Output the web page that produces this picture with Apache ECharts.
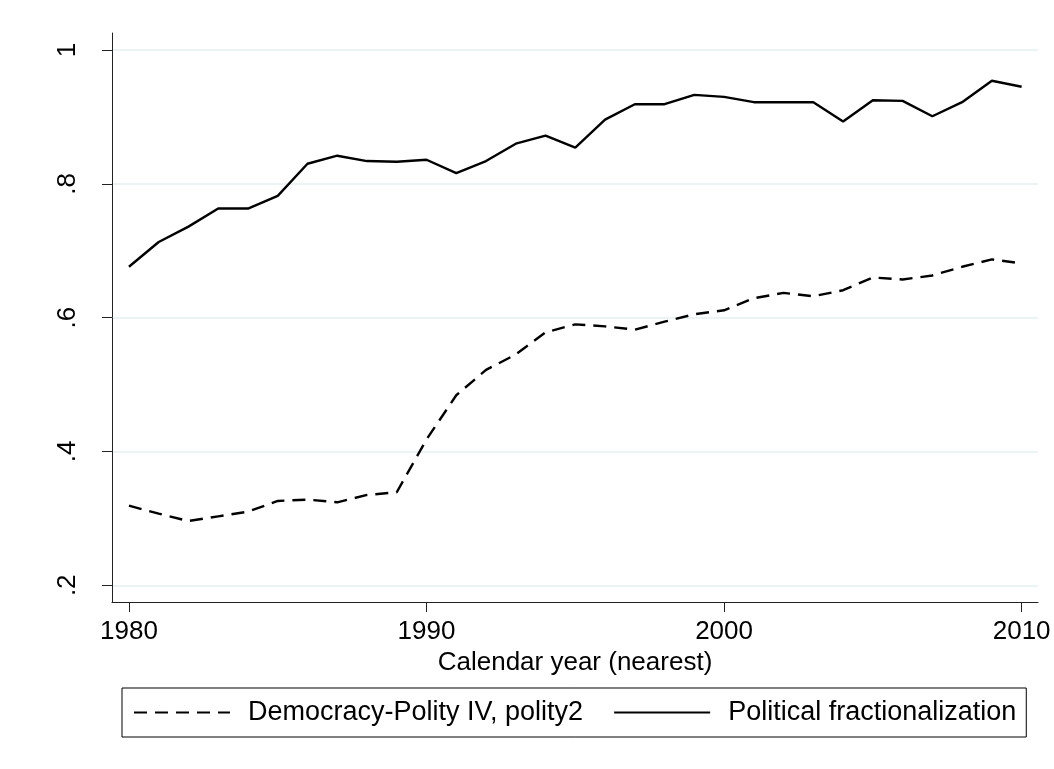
<!DOCTYPE html>
<html>
<head>
<meta charset="utf-8">
<script src="https://cdn.jsdelivr.net/npm/echarts@6/dist/echarts.min.js"></script>
<style>
  html, body { margin: 0; padding: 0; background: #fff; }
  #chart { width: 1054px; height: 769px; }
</style>
</head>
<body>
<div id="chart"></div>
<script>
// years on the x axis
const years = [1980, 1981, 1982, 1983, 1984, 1985, 1986, 1987, 1988, 1989,
  1990, 1991, 1992, 1993, 1994, 1995, 1996, 1997, 1998, 1999,
  2000, 2001, 2002, 2003, 2004, 2005, 2006, 2007, 2008, 2009, 2010];

// Democracy-Polity IV, polity2 (dashed)
const democracy = [0.319, 0.307, 0.296, 0.303, 0.310, 0.326, 0.328, 0.324, 0.335, 0.339,
  0.418, 0.484, 0.522, 0.545, 0.578, 0.590, 0.587, 0.582, 0.594, 0.605,
  0.611, 0.629, 0.637, 0.632, 0.641, 0.660, 0.657, 0.663, 0.676, 0.687, 0.681];

// Political fractionalization (solid)
const fraction = [0.676, 0.713, 0.736, 0.763, 0.763, 0.782, 0.830, 0.842, 0.834, 0.833,
  0.836, 0.816, 0.834, 0.860, 0.872, 0.854, 0.896, 0.919, 0.919, 0.933,
  0.930, 0.922, 0.922, 0.922, 0.893, 0.925, 0.924, 0.901, 0.922, 0.954, 0.945];

const xTicks = [1980, 1990, 2000, 2010];
const yTicks = [0.2, 0.4, 0.6, 0.8, 1];

const font = '"Liberation Sans", Arial, sans-serif';
const chart = echarts.init(document.getElementById('chart'));

const pairs = arr => years.map((y, i) => [y, arr[i]]);

chart.setOption({
  animation: false,
  backgroundColor: '#fff',
  grid: { left: 112, right: 16, top: 33, bottom: 167, containLabel: false },
  xAxis: {
    type: 'value',
    min: 1979.43,
    max: 2010.55,
    name: 'Calendar year (nearest)',
    nameLocation: 'middle',
    nameGap: 44,
    nameTextStyle: { fontFamily: font, fontSize: 26, color: '#000' },
    axisLine: { lineStyle: { color: '#222', width: 1 } },
    axisTick: { customValues: xTicks, length: 10, lineStyle: { color: '#222' } },
    axisLabel: {
      customValues: xTicks, margin: 17,
      fontFamily: font, fontSize: 26, color: '#000',
      formatter: v => String(v)
    },
    splitLine: { show: false }
  },
  yAxis: {
    type: 'value',
    min: 0.175,
    max: 1.0254,
    axisLine: { show: true, lineStyle: { color: '#222', width: 1 } },
    axisTick: { show: true, customValues: yTicks, length: 10, lineStyle: { color: '#222' } },
    axisLabel: {
      customValues: yTicks, rotate: 90, margin: 31,
      fontFamily: font, fontSize: 26, color: '#000',
      formatter: v => (v >= 1 ? '1' : String(Math.round(v * 10) / 10).replace(/^0/, ''))
    },
    splitLine: { show: true, lineStyle: { color: '#e6eff2', width: 1.5 } }
  },
  legend: {
    left: 122,
    top: 688,
    padding: [11, 10, 11, 11],
    borderColor: '#000',
    borderWidth: 1,
    itemWidth: 96,
    itemHeight: 27,
    itemGap: 30,
    itemStyle: { opacity: 0 },
    textStyle: { fontFamily: font, fontSize: 27, color: '#000', padding: [0, 0, 0, 13] },
    data: ['Democracy-Polity IV, polity2', 'Political fractionalization']
  },
  series: [
    {
      name: 'Democracy-Polity IV, polity2',
      type: 'line',
      data: pairs(democracy),
      symbol: 'none',
      lineStyle: { color: '#000', width: 2.4, type: [13, 8] },
      itemStyle: { color: '#000' }
    },
    {
      name: 'Political fractionalization',
      type: 'line',
      data: pairs(fraction),
      symbol: 'none',
      lineStyle: { color: '#000', width: 2.4, type: 'solid' },
      itemStyle: { color: '#000' }
    }
  ]
});
</script>
</body>
</html>
